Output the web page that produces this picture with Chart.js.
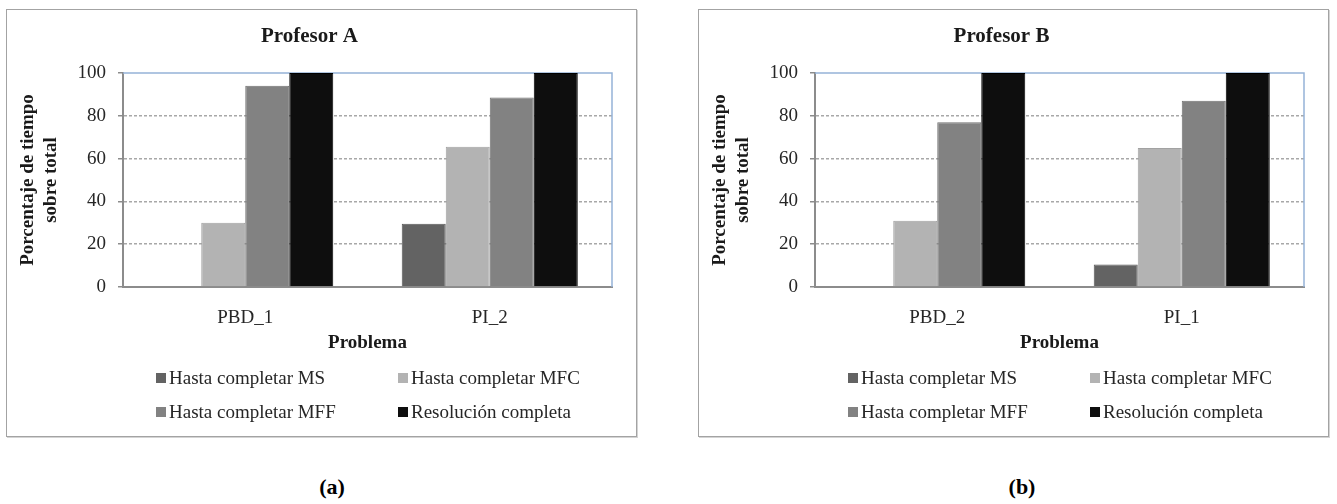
<!DOCTYPE html>
<html>
<head>
<meta charset="utf-8">
<script src="https://cdn.jsdelivr.net/npm/chart.js@4.4.0/dist/chart.umd.min.js"></script>
<style>
  body { margin: 0; width: 1337px; height: 504px; background: #fff; position: relative; overflow: hidden;
         font-family: "Liberation Serif", "Times New Roman", serif; }
  .panel { position: absolute; top: 9px; width: 629px; height: 426px; border: 1px solid #a3a3a3;
           box-shadow: 1px 1px 0 #d4d4d4; background: #fff; }
  .panel canvas { position: absolute; left: 0; top: 0; }
  .legend .item { position: absolute; font-size: 19px; line-height: 20px; color: #262626; white-space: nowrap; }
  .legend .sw { display: inline-block; width: 10px; height: 10px; margin-right: 3px; vertical-align: 1px; }
  .caption { position: absolute; top: 474px; font-weight: bold; font-size: 22px; transform: translateX(-50%); }
</style>
</head>
<body>
<div class="panel" id="panelA" style="left:6px"><canvas id="chartA" width="629" height="426"></canvas><div class="legend" id="legendA"></div></div>
<div class="panel" id="panelB" style="left:698px"><canvas id="chartB" width="629" height="426"></canvas><div class="legend" id="legendB"></div></div>
<div class="caption" style="left:332px">(a)</div>
<div class="caption" style="left:1022px">(b)</div>
<script>
const seriesNames = ['Hasta completar MS', 'Hasta completar MFC', 'Hasta completar MFF', 'Resolución completa'];
const seriesColors = ['#636363', '#b3b3b3', '#828282', '#0e0e0e'];
const seriesBorders = ['#585858', '#a2a2a2', '#727272', '#000000'];
const yTicks = [0, 20, 40, 60, 80, 100];

// Profesor A
const categoriesA = ['PBD_1', 'PI_2'];
const msA = [0, 29.5];
const mfcA = [30, 65.5];
const mffA = [94, 88.5];
const fullA = [100, 100];

// Profesor B
const categoriesB = ['PBD_2', 'PI_1'];
const msB = [0, 10.5];
const mfcB = [31, 65];
const mffB = [77, 87];
const fullB = [100, 100];

const FONT = '"Liberation Serif", "Times New Roman", serif';

// blue plot-area frame (top and right edges), drawn under the bars
const framePlugin = {
    id: 'frame',
    beforeDatasetsDraw(chart) {
        const { ctx, chartArea: { left, right, top, bottom } } = chart;
        ctx.save();
        ctx.strokeStyle = '#95b3d7';
        ctx.lineWidth = 1.5;
        ctx.beginPath();
        ctx.moveTo(left, top);
        ctx.lineTo(right, top);
        ctx.lineTo(right, bottom);
        ctx.stroke();
        ctx.restore();
    }
};

function makePanel(canvasId, legendId, title, categories, series) {
    const chart = new Chart(document.getElementById(canvasId), {
        type: 'bar',
        data: {
            labels: categories,
            datasets: series.map((values, i) => ({
                label: seriesNames[i],
                data: values,
                backgroundColor: seriesColors[i],
                borderColor: seriesBorders[i],
                borderWidth: 1,
                categoryPercentage: 0.72,
                barPercentage: 1
            }))
        },
        options: {
            responsive: false,
            animation: false,
            layout: { padding: { top: 14.4, right: 24, bottom: 79.6, left: 0 } },
            plugins: {
                legend: { display: false },
                tooltip: { enabled: false },
                title: {
                    display: true,
                    text: title,
                    color: '#1a1a1a',
                    font: { family: FONT, size: 21, weight: 'bold', lineHeight: 1.2 },
                    padding: { top: 0, bottom: 23.4 }
                }
            },
            scales: {
                x: {
                    grid: { color: 'rgba(0,0,0,0)', drawTicks: false },
                    border: { color: '#8c8c8c', width: 2 },
                    ticks: { color: '#262626', padding: 19.6, font: { family: FONT, size: 19 } },
                    title: {
                        display: true,
                        text: 'Problema',
                        color: '#1a1a1a',
                        font: { family: FONT, size: 19, weight: 'bold', lineHeight: 1.2 },
                        padding: { top: 0, bottom: 2 }
                    },
                    afterFit: s => { s.height = 69.4; }
                },
                y: {
                    min: 0,
                    max: 100,
                    afterBuildTicks: s => { s.ticks = yTicks.map(v => ({ value: v })); },
                    grid: {
                        color: c => (c.tick && (c.tick.value === 0 || c.tick.value === 100)) ? 'rgba(0,0,0,0)' : '#a8a8a8',
                        lineWidth: 1.5,
                        tickColor: '#8c8c8c',
                        tickLength: 5,
                        tickBorderDash: []
                    },
                    border: { color: '#8c8c8c', width: 2, dash: [3, 2] },
                    ticks: { color: '#262626', padding: 12, font: { family: FONT, size: 19 } },
                    title: {
                        display: true,
                        text: ['Porcentaje de tiempo', 'sobre total'],
                        color: '#1a1a1a',
                        font: { family: FONT, size: 19, weight: 'bold', lineHeight: 1.2 },
                        padding: { top: 10, bottom: 0 }
                    },
                    afterFit: s => { s.width = 116; }
                }
            }
        },
        plugins: [framePlugin]
    });

    // legend in two columns, two rows, built from the datasets
    const legend = document.getElementById(legendId);
    const cols = [149, 391];
    const rows = [358, 392];
    chart.data.datasets.forEach((ds, i) => {
        const item = document.createElement('div');
        item.className = 'item';
        item.style.left = cols[i % 2] + 'px';
        item.style.top = rows[Math.floor(i / 2)] + 'px';
        item.innerHTML = '<span class="sw" style="background:' + ds.backgroundColor + '"></span>' + ds.label;
        legend.appendChild(item);
    });
    return chart;
}

makePanel('chartA', 'legendA', 'Profesor A', categoriesA, [msA, mfcA, mffA, fullA]);
makePanel('chartB', 'legendB', 'Profesor B', categoriesB, [msB, mfcB, mffB, fullB]);
</script>
</body>
</html>
